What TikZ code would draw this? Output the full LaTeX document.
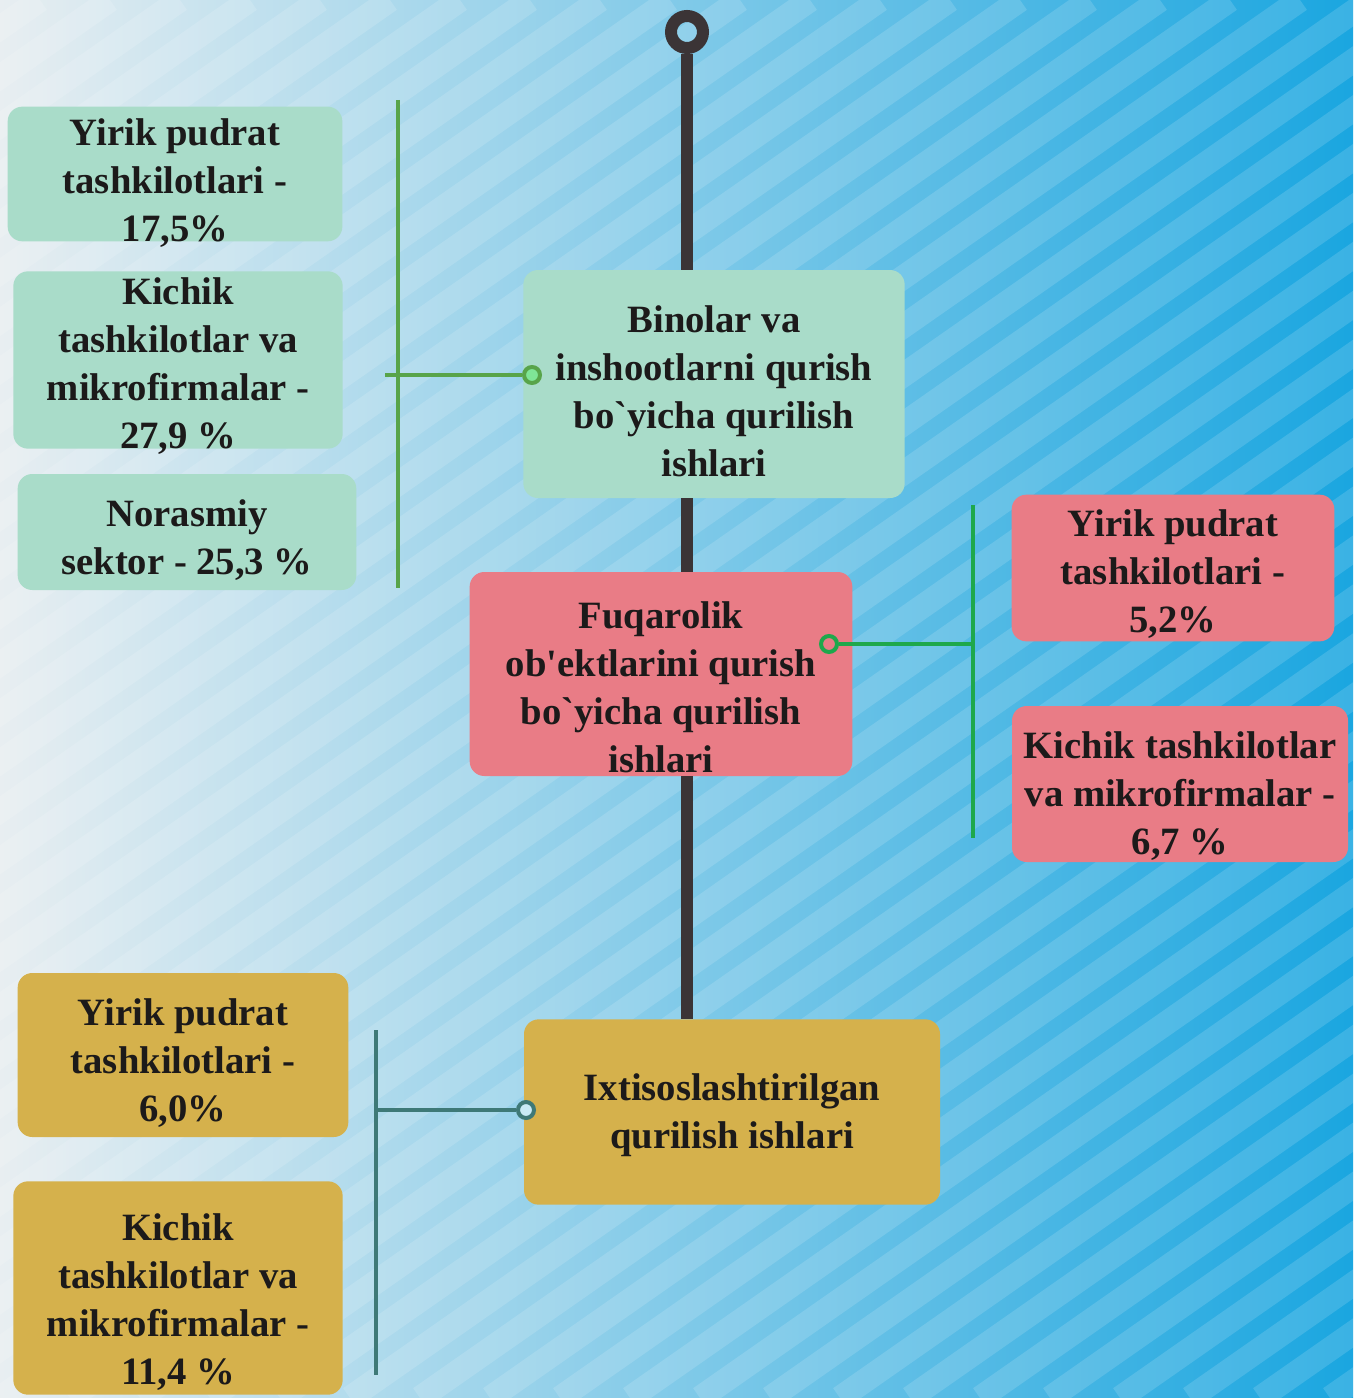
\documentclass[tikz,border=0pt]{standalone}
\usepackage{fontspec}
\setmainfont{Liberation Serif}
\definecolor{bgleft}{HTML}{E8EEF1}
\definecolor{bgmid}{HTML}{A4DCF0}
\definecolor{bgright}{HTML}{1AA6E0}
\definecolor{tealbox}{HTML}{A9DCC9}
\definecolor{redbox}{HTML}{E97C86}
\definecolor{goldbox}{HTML}{D5B14C}
\definecolor{stem}{HTML}{3B3436}
\definecolor{txtdark}{HTML}{1C1A1A}
\definecolor{grnA}{HTML}{58A44A}
\definecolor{grnB}{HTML}{1EA84C}
\definecolor{tealC}{HTML}{3E7977}

\begin{document}
\begin{tikzpicture}[x=0.75pt,y=-0.75pt,
    box/.style={rounded corners=11pt,inner xsep=3pt,inner ysep=0pt,align=center,
      text=txtdark,font=\fontsize{29}{36}\selectfont\bfseries,text depth=0pt},
    teal/.style={box,fill=tealbox},
    red/.style={box,fill=redbox},
    gold/.style={box,fill=goldbox},
    dot/.style={circle,draw,line width=3pt,minimum size=12pt,inner sep=0pt}]
    \useasboundingbox (0,0) rectangle (1353,1398);
    % background
    \shade[left color=bgleft,middle color=bgmid,right color=bgright] (0,0) rectangle (1353,1398);
    \begin{scope}
      \clip (0,0) rectangle (1353,1398);
      \foreach \s in {-29,...,20}
        \draw[white,opacity=0.14,line width=18pt] (\s*70,1398) -- ++(2000,-1398);
    \end{scope}

    % main boxes
    \node[teal,minimum width=286pt,minimum height=171pt,text height=138pt] (bin) at (714,384)
      {Binolar va\\inshootlarni qurish\\bo\textasciigrave{}yicha qurilish\\ishlari};
    \node[red,minimum width=287pt,minimum height=153pt,text height=147pt] (fuq) at (661,674)
      {Fuqarolik\\ob\textquotesingle{}ektlarini qurish\\bo\textasciigrave{}yicha qurilish\\ishlari};
    \node[gold,minimum width=312pt,minimum height=139pt,text height=55pt] (ixt) at (732,1112)
      {Ixtisoslashtirilgan\\qurilish ishlari};

    % left boxes
    \node[teal,minimum width=251pt,minimum height=99pt,text height=101pt] (yirA) at (175,174)
      {Yirik pudrat\\tashkilotlari -\\17,5\%};
    \node[teal,minimum width=247pt,minimum height=133pt,text height=132pt] (kicA) at (178,360)
      {Kichik\\tashkilotlar va\\mikrofirmalar -\\27,9 \%};
    \node[teal,minimum width=254pt,minimum height=87pt,text height=64pt] (nor) at (187,532)
      {Norasmiy\\sektor - 25,3 \%};

    % right boxes
    \node[red,minimum width=242pt,minimum height=110pt,text height=96pt] (yirB) at (1173,568)
      {Yirik pudrat\\tashkilotlari -\\5,2\%};
    \node[red,minimum width=252pt,minimum height=117pt,text height=105pt] (kicB) at (1180,784)
      {Kichik tashkilotlar\\va mikrofirmalar -\\6,7 \%};

    % bottom boxes
    \node[gold,minimum width=248pt,minimum height=123pt,text height=99pt] (yirC) at (183,1055)
      {Yirik pudrat\\tashkilotlari -\\6,0\%};
    \node[gold,minimum width=247pt,minimum height=160pt,text height=145pt] (kicC) at (178,1288)
      {Kichik\\tashkilotlar va\\mikrofirmalar -\\11,4 \%};

    % stem
    \node[circle,draw=stem,line width=9pt,minimum size=24pt,inner sep=0pt] (ring) at (687,32) {};
    \draw[stem,line width=9pt] (ring.south) -- (ring |- bin.north);
    \draw[stem,line width=9pt] (ring |- bin.south) -- (ring |- fuq.north);
    \draw[stem,line width=9pt] (ring |- fuq.south) -- (ring |- ixt.north);

    % branches
    \coordinate (brA) at (385,375);
    \coordinate (topA) at (398,100);
    \coordinate (botA) at (398,588);
    \draw[grnA,line width=3.5pt] (topA) -- (botA);
    \node[dot,draw=grnA,fill=green!25!tealbox] (dotA) at (532,375) {};
    \draw[grnA,line width=3.5pt] (brA) -- (dotA);

    \coordinate (brB) at (973,644);
    \coordinate (topB) at (973,505);
    \coordinate (botB) at (973,838);
    \draw[grnB,line width=3.5pt] (topB) -- (botB);
    \node[dot,draw=grnB,fill=redbox] (dotB) at (829,644) {};
    \draw[grnB,line width=3.5pt] (dotB) -- (brB);

    \coordinate (brC) at (376,1110);
    \coordinate (topC) at (376,1030);
    \coordinate (botC) at (376,1375);
    \draw[tealC,line width=3.5pt] (topC) -- (botC);
    \node[dot,draw=tealC,fill=bgmid!60!white] (dotC) at (526,1110) {};
    \draw[tealC,line width=3.5pt] (brC) -- (dotC);
\end{tikzpicture}
\end{document}
